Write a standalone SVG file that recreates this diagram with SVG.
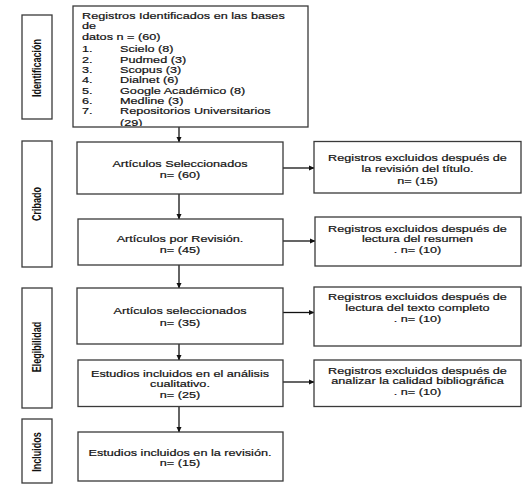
<svg xmlns="http://www.w3.org/2000/svg" width="530" height="489" viewBox="0 0 530 489">
<style>
.box{fill:#fff;stroke:#3a3a3a;stroke-width:1.3}
.t{font-family:"Liberation Sans",Arial,sans-serif;font-size:9.6px;fill:#111;stroke:#111;stroke-width:0.2}
.c{text-anchor:middle}
.v{font-family:"Liberation Sans",Arial,sans-serif;font-size:9px;font-weight:bold;fill:#111;text-anchor:middle}
.ln{stroke:#111;stroke-width:1.3;fill:none;marker-end:url(#ah)}
</style>
<defs>
<marker id="ah" markerWidth="6" markerHeight="6" refX="5" refY="3" orient="auto" markerUnits="userSpaceOnUse">
<path d="M0,0.5 L5.5,3 L0,5.5 Z" fill="#111"/>
</marker>
<clipPath id="topclip"><rect x="73" y="6" width="235" height="120"/></clipPath>
</defs>
<rect width="530" height="489" fill="#fff"/>

<g id="side-identificacion">
<rect class="box" x="22" y="15" width="30" height="104"/>
<text class="v" transform="translate(40.5,68) rotate(-90) scale(1,1.35)">Identificación</text>
</g>
<g id="side-cribado">
<rect class="box" x="22" y="141" width="30" height="126"/>
<text class="v" transform="translate(40.5,204) rotate(-90) scale(1,1.35)">Cribado</text>
</g>
<g id="side-elegibilidad">
<rect class="box" x="22" y="288" width="30" height="120"/>
<text class="v" transform="translate(40.5,347) rotate(-90) scale(1,1.35)">Elegibilidad</text>
</g>
<g id="side-incluidos">
<rect class="box" x="22" y="419" width="30" height="64"/>
<text class="v" transform="translate(40.5,452) rotate(-90) scale(1,1.35)">Incluidos</text>
</g>

<g id="connectors">
<line class="ln" x1="179" y1="127" x2="179" y2="142"/>
<line class="ln" x1="179" y1="194" x2="179" y2="219"/>
<line class="ln" x1="179" y1="265" x2="179" y2="288"/>
<line class="ln" x1="179" y1="344" x2="179" y2="360"/>
<line class="ln" x1="179" y1="406.5" x2="179" y2="432"/>
<line class="ln" x1="283" y1="168" x2="314" y2="168"/>
<line class="ln" x1="283" y1="241" x2="315" y2="241"/>
<line class="ln" x1="283" y1="312.5" x2="314" y2="312.5"/>
<line class="ln" x1="283" y1="382" x2="314" y2="382"/>
</g>

<g id="node-registros">
<rect class="box" x="73" y="6" width="235" height="121"/>
<g clip-path="url(#topclip)">
<g transform="translate(82,0) scale(1.32,1)" class="t">
<text x="0" y="19.5">Registros Identificados en las bases</text>
<text x="0" y="29.2">de</text>
<text x="0" y="39.7">datos n = (60)</text>
<text x="0" y="52.4">1.</text><text x="28.8" y="52.4">Scielo (8)</text>
<text x="0" y="62.6">2.</text><text x="28.8" y="62.6">Pudmed (3)</text>
<text x="0" y="73">3.</text><text x="28.8" y="73">Scopus (3)</text>
<text x="0" y="83.2">4.</text><text x="28.8" y="83.2">Dialnet (6)</text>
<text x="0" y="93.6">5.</text><text x="28.8" y="93.6">Google Académico (8)</text>
<text x="0" y="104">6.</text><text x="28.8" y="104">Medline (3)</text>
<text x="0" y="114.4">7.</text><text x="28.8" y="114.4">Repositorios Universitarios</text>
<text x="28.8" y="125.6">(29)</text>
</g>
</g>
</g>

<g id="node-seleccionados">
<rect class="box" x="77" y="142" width="206" height="52"/>
<g transform="translate(180,0) scale(1.32,1)" class="t c">
<text x="0" y="166.7">Artículos Seleccionados</text>
<text x="0" y="177.7">n= (60)</text>
</g>
</g>

<g id="node-excl-titulo">
<rect class="box" x="314" y="141.5" width="207" height="51.5"/>
<g transform="translate(417.5,0) scale(1.32,1)" class="t c">
<text x="0" y="161.4">Registros excluidos después de</text>
<text x="0" y="172.5">la revisión del título.</text>
<text x="0" y="183.7">n= (15)</text>
</g>
</g>

<g id="node-revision">
<rect class="box" x="78" y="219" width="205" height="46"/>
<g transform="translate(180,0) scale(1.32,1)" class="t c">
<text x="0" y="242.5">Artículos por Revisión.</text>
<text x="0" y="253">n= (45)</text>
</g>
</g>

<g id="node-excl-resumen">
<rect class="box" x="315" y="217" width="206" height="49"/>
<g transform="translate(417.5,0) scale(1.32,1)" class="t c">
<text x="0" y="231.7">Registros excluidos después de</text>
<text x="0" y="242.4">lectura del resumen</text>
<text x="0" y="253">. n= (10)</text>
</g>
</g>

<g id="node-seleccionados2">
<rect class="box" x="77" y="288" width="206" height="56"/>
<g transform="translate(180,0) scale(1.32,1)" class="t c">
<text x="0" y="314.5">Artículos seleccionados</text>
<text x="0" y="326.2">n= (35)</text>
</g>
</g>

<g id="node-excl-texto">
<rect class="box" x="314" y="287" width="207" height="59"/>
<g transform="translate(417.5,0) scale(1.32,1)" class="t c">
<text x="0" y="300.2">Registros excluidos después de</text>
<text x="0" y="310.9">lectura del texto completo</text>
<text x="0" y="321.7">. n= (10)</text>
</g>
</g>

<g id="node-cualitativo">
<rect class="box" x="78" y="360" width="205" height="46.5"/>
<g transform="translate(180,0) scale(1.32,1)" class="t c">
<text x="0" y="376.7">Estudios incluidos en el análisis</text>
<text x="0" y="387.4">cualitativo.</text>
<text x="0" y="398">n= (25)</text>
</g>
</g>

<g id="node-excl-calidad">
<rect class="box" x="314" y="360" width="207" height="46.5"/>
<g transform="translate(417.5,0) scale(1.32,1)" class="t c">
<text x="0" y="373.7">Registros excluidos después de</text>
<text x="0" y="384.3">analizar la calidad bibliográfica</text>
<text x="0" y="394.9">. n= (10)</text>
</g>
</g>

<g id="node-revision-final">
<rect class="box" x="78" y="432" width="205" height="49"/>
<g transform="translate(180,0) scale(1.32,1)" class="t c">
<text x="0" y="455.7">Estudios incluidos en la revisión.</text>
<text x="0" y="466.2">n= (15)</text>
</g>
</g>
</svg>
